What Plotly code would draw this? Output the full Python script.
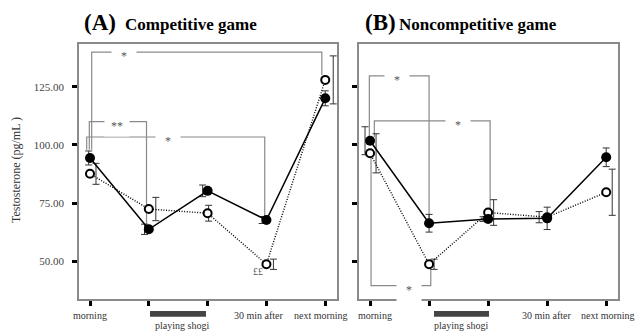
import plotly.graph_objects as go

# ---- data -------------------------------------------------------------
timepoints = ["morning", "pre", "post", "30 min after", "next morning"]
x_idx = [0, 1, 2, 3, 4]

# (A) competitive game
comp_winner = [94.4, 63.8, 80.3, 67.8, 120.0]
comp_winner_se = [3.0, 2.2, 2.5, 1.5, 3.2]
comp_loser = [87.6, 72.5, 70.7, 48.8, 127.9]
comp_loser_se = [4.5, 5.0, 3.4, 2.2, 10.3]

# (B) noncompetitive game
nonc_winner = [101.8, 66.4, 68.2, 68.5, 94.7]
nonc_winner_se = [6.0, 3.8, 1.0, 4.8, 4.0]
nonc_loser = [96.4, 48.8, 71.0, 69.0, 79.7]
nonc_loser_se = [8.4, 2.2, 5.5, 2.4, 9.9]

y_ticks = [50, 75, 100, 125]

# significance brackets: (from, to, level, left end, right end, label, label position)
brackets_a = [
    (0, 4, 139.8, 97.9, 130.0, "*", 0.58),
    (0, 1, 110.0, 97.9, 65.0, "**", 0.46),
    (0, 3, 103.4, 97.9, 69.2, "*", 1.33),
]
brackets_b = [
    (0, 1, 129.6, 103.4, 67.8, "*", 0.46),
    (0, 2, 110.3, 103.4, 70.0, "*", 1.49),
    (0, 1, 39.6, 94.8, 47.0, "*", 0.66),
]

# ---- geometry -----------------------------------------------------------
W, H = 636, 332
XU = 58.9    # px per time step
X_RANGE = [-0.187, 4.2]
Y_RANGE = [33.9, 143.3]
dom_a = [79 / W, 337 / W]
dom_b = [359 / W, 618 / W]
dom_y = [(H - 299) / H, (H - 44) / H]

SERIF = "Liberation Serif, Times New Roman, serif"
INK = "#333333"
GRID = "#8a8a8a"

# horizontal pixel nudges so that error bars do not hide each other
err_shift_a = {"w": [-1.3, -4.3, -5.0, -4.3, 0.0], "l": [6.0, 7.0, 1.0, 7.0, 8.0]}
err_shift_b = {"w": [-5.0, 0.0, -5.0, 0.0, 0.0], "l": [6.0, 5.0, 5.5, -8.0, 6.0]}
bracket_shift_a = [(1.7, -3.4), (-0.7, -2.3), (-3.3, -1.7)]
bracket_shift_b = [(-0.7, 0.0), (4.3, 2.0), (1.0, 1.7)]

fig = go.Figure()


def add_panel(xa, ya, winner, winner_se, loser, loser_se, shifts):
    # error bars first, so lines and markers sit on top
    for vals, se, key in ((winner, winner_se, "w"), (loser, loser_se, "l")):
        fig.add_trace(go.Scatter(
            x=[i + s / XU for i, s in zip(x_idx, shifts[key])], y=vals,
            mode="markers", marker=dict(size=1, color="rgba(0,0,0,0)"),
            error_y=dict(type="data", array=se, visible=True, color=INK,
                         thickness=1, width=3.5),
            xaxis=xa, yaxis=ya, showlegend=False, hoverinfo="skip"))
    fig.add_trace(go.Scatter(
        x=x_idx, y=loser, mode="lines+markers",
        line=dict(color="black", width=1.4, dash="1px,1.6px"),
        marker=dict(size=8, color="white", line=dict(color="black", width=2)),
        xaxis=xa, yaxis=ya, showlegend=False))
    fig.add_trace(go.Scatter(
        x=x_idx, y=winner, mode="lines+markers",
        line=dict(color="black", width=1.5),
        marker=dict(size=10, color="black"),
        xaxis=xa, yaxis=ya, showlegend=False))


add_panel("x", "y", comp_winner, comp_winner_se, comp_loser, comp_loser_se, err_shift_a)
add_panel("x2", "y2", nonc_winner, nonc_winner_se, nonc_loser, nonc_loser_se, err_shift_b)


def add_brackets(xref, yref, brackets, shifts, label_heights):
    for (i0, i1, lvl, e0, e1, lab, lx), (s0, s1), lh in zip(brackets, shifts, label_heights):
        xa = i0 + s0 / XU
        xb = i1 + s1 / XU
        fig.add_shape(type="path",
                      path=f"M {xa},{e0} L {xa},{lvl} L {xb},{lvl} L {xb},{e1}",
                      xref=xref, yref=yref, layer="below",
                      line=dict(color=GRID, width=1.2))
        fig.add_annotation(x=lx, y=lvl, xref=xref, yref=yref, text=lab,
                           showarrow=False, bgcolor="white", width=22, height=lh,
                           font=dict(family=SERIF, size=12, color="#555555"),
                           valign="middle", yshift=-4)


add_brackets("x", "y", brackets_a, bracket_shift_a, [18, 18, 18])
add_brackets("x2", "y2", brackets_b, bracket_shift_b, [18, 18, 30])

# ---- axes ---------------------------------------------------------------
xcommon = dict(range=X_RANGE, tickvals=x_idx, showticklabels=False,
               ticks="outside", ticklen=5, tickwidth=2.5, tickcolor="black",
               showline=True, linecolor=GRID, linewidth=1.5, mirror=True,
               showgrid=False, zeroline=False, fixedrange=True)
ycommon = dict(range=Y_RANGE, tickvals=y_ticks, tickformat=".2f",
               ticks="outside", ticklen=5, tickwidth=2.5, tickcolor="black",
               showline=True, linecolor=GRID, linewidth=1.5, mirror=True,
               showgrid=False, zeroline=False, fixedrange=True,
               tickfont=dict(family=SERIF, size=11, color="#444444"))

fig.update_layout(
    width=W, height=H, margin=dict(l=0, r=0, t=0, b=0),
    paper_bgcolor="white", plot_bgcolor="white",
    xaxis=dict(domain=dom_a, anchor="y", **xcommon),
    xaxis2=dict(domain=dom_b, anchor="y2", **xcommon),
    yaxis=dict(domain=dom_y, anchor="x", ticklabelstandoff=6, **ycommon),
    yaxis2=dict(domain=dom_y, anchor="x2", **{**ycommon, "showticklabels": False}),
)

# ---- text ---------------------------------------------------------------
def px_ann(x, y, text, size, bold=False, xanchor="center", angle=0, color=INK):
    fig.add_annotation(x=x / W, y=(H - y) / H, xref="paper", yref="paper",
                       text=f"<b>{text}</b>" if bold else text, showarrow=False,
                       xanchor=xanchor, yanchor="middle", textangle=angle,
                       font=dict(family=SERIF, size=size, color=color))


px_ann(82, 23, "(A)", 23, bold=True, xanchor="left", color="black")
px_ann(123, 24, "Competitive game", 17, bold=True, xanchor="left", color="black")
px_ann(363, 23, "(B)", 23, bold=True, xanchor="left", color="black")
px_ann(397, 24, "Noncompetitive game", 17, bold=True, xanchor="left", color="black")

px_ann(16, 170, "Testosterone (pg/mL )", 12, angle=-90)

# time-point labels under each panel
for x0, pos in ((90, [90, 259, 321]), (370, [375, 547, 608])):
    for px, lab in zip(pos, ["morning", "30 min after", "next morning"]):
        px_ann(px, 315, lab, 10)

# playing period bars
for x0, x1, cx in ((150, 206, 182), (434, 489, 461)):
    fig.add_shape(type="rect", xref="paper", yref="paper",
                  x0=x0 / W, x1=x1 / W, y0=(H - 316.7) / H, y1=(H - 311) / H,
                  fillcolor="#444444", line=dict(width=0))
    px_ann(cx, 325, "playing shogi", 10)

# marker for the 30-min loser value
fig.add_annotation(x=2.85, y=45.6, xref="x", yref="y", text="££",
                   showarrow=False, font=dict(family=SERIF, size=10, color="#555555"))

fig.write_html("out.html")
